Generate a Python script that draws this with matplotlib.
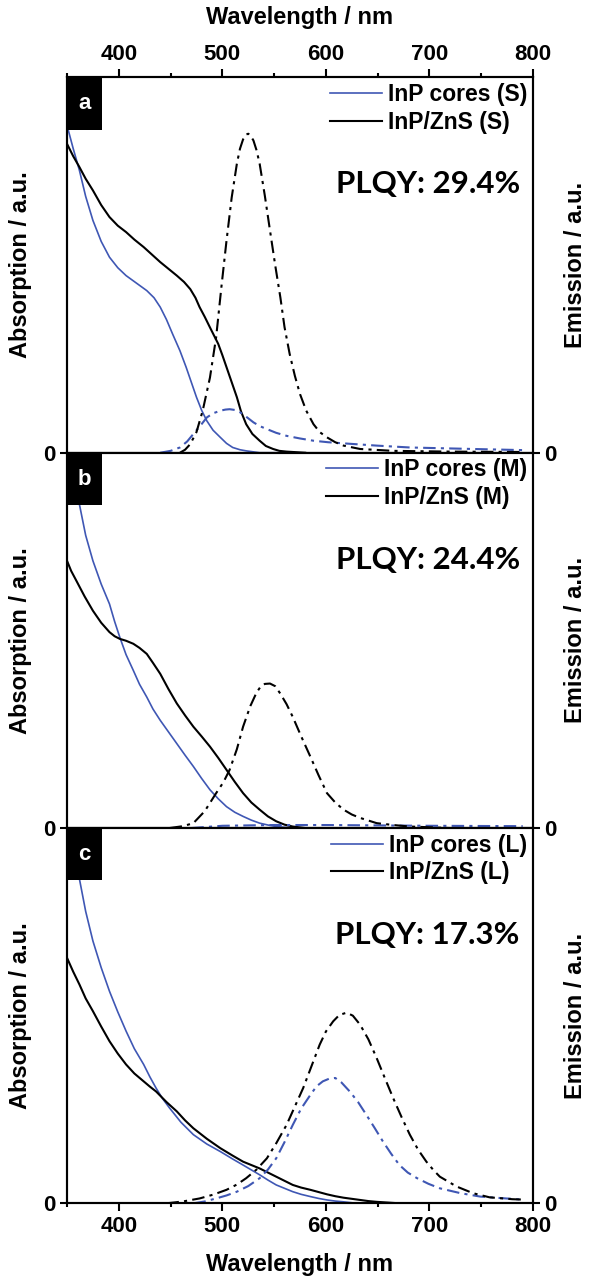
import matplotlib.pyplot as plt
from matplotlib.patches import Rectangle

# Panel a (S)
wl_core_abs_a = [350, 356, 362, 368, 375, 383, 391, 399, 407, 417, 427, 434, 440, 446, 452, 459, 465,
                 470, 475, 480, 485, 491, 498, 504, 510, 517, 523, 536, 560]
core_abs_a = [0.872, 0.81, 0.752, 0.683, 0.619, 0.563, 0.521, 0.493, 0.472, 0.452, 0.432, 0.413, 0.388,
              0.355, 0.316, 0.272, 0.228, 0.188, 0.148, 0.113, 0.085, 0.060, 0.041, 0.025, 0.014, 0.008,
              0.005, 0.0, 0.0]
wl_shell_abs_a = [350, 356, 362, 368, 375, 383, 391, 399, 407, 415, 424, 432, 440, 448, 456, 463, 469,
                  474, 478, 483, 488, 492, 496, 500, 504, 509, 514, 518, 523, 529, 536, 542, 549, 555,
                  562, 580]
shell_abs_a = [0.823, 0.79, 0.761, 0.73, 0.699, 0.66, 0.628, 0.605, 0.588, 0.568, 0.548, 0.528, 0.508,
               0.49, 0.472, 0.455, 0.436, 0.413, 0.388, 0.362, 0.334, 0.312, 0.290, 0.260, 0.228, 0.188,
               0.148, 0.110, 0.076, 0.050, 0.032, 0.018, 0.010, 0.005, 0.003, 0.0]
wl_core_em_a = [440, 450, 459, 466, 472, 479, 485, 491, 498, 503, 507, 512, 517, 523, 530, 536, 543,
                552, 562, 575, 588, 602, 617, 633, 649, 681, 742, 790]
core_em_a = [0.0, 0.005, 0.014, 0.030, 0.050, 0.073, 0.094, 0.105, 0.112, 0.115, 0.116, 0.114, 0.108,
             0.096, 0.081, 0.071, 0.063, 0.053, 0.045, 0.038, 0.032, 0.028, 0.025, 0.022, 0.019, 0.014,
             0.010, 0.007]
wl_shell_em_a = [459, 464, 469, 475, 481, 488, 494, 499, 504, 509, 514, 517, 520, 523, 525, 527, 530,
                 533, 536, 541, 546, 551, 556, 560, 565, 570, 575, 581, 588, 594, 601, 609, 617, 633,
                 665, 720, 790]
shell_em_a = [0.0, 0.008, 0.023, 0.055, 0.112, 0.200, 0.308, 0.440, 0.565, 0.680, 0.770, 0.810, 0.835,
              0.848, 0.850, 0.846, 0.832, 0.806, 0.770, 0.685, 0.592, 0.500, 0.414, 0.335, 0.263, 0.205,
              0.156, 0.112, 0.076, 0.055, 0.041, 0.028, 0.019, 0.010, 0.005, 0.003, 0.002]

# Panel b (M)
wl_core_abs_b = [350, 353, 357, 362, 368, 375, 383, 391, 396, 401, 407, 414, 420, 427, 433, 440, 448,
                 456, 464, 472, 480, 488, 496, 504, 512, 520, 528, 536, 544, 552, 568]
core_abs_b = [1.08, 1.0, 0.93, 0.862, 0.78, 0.712, 0.65, 0.597, 0.55, 0.508, 0.462, 0.420, 0.383,
              0.349, 0.317, 0.287, 0.256, 0.225, 0.194, 0.164, 0.132, 0.102, 0.078, 0.057, 0.042, 0.031,
              0.021, 0.013, 0.008, 0.004, 0.0]
wl_shell_abs_b = [350, 354, 359, 367, 375, 383, 391, 396, 401, 407, 414, 420, 427, 433, 440, 448, 456,
                  464, 472, 480, 488, 496, 504, 512, 520, 528, 536, 544, 552, 560, 568, 580]
shell_abs_b = [0.712, 0.685, 0.659, 0.617, 0.579, 0.547, 0.522, 0.511, 0.504, 0.499, 0.491, 0.480,
               0.464, 0.440, 0.411, 0.370, 0.332, 0.300, 0.270, 0.244, 0.217, 0.187, 0.155, 0.123,
               0.093, 0.068, 0.049, 0.031, 0.018, 0.009, 0.004, 0.0]
wl_core_em_b = [470, 500, 550, 600, 700, 790]
core_em_b = [0.0, 0.006, 0.008, 0.008, 0.006, 0.005]
wl_shell_em_b = [449, 462, 472, 483, 494, 501, 507, 514, 520, 527, 533, 537, 541, 546, 551, 556, 562,
                 568, 576, 585, 593, 601, 609, 617, 625, 633, 649, 665, 681, 720]
shell_em_b = [0.0, 0.005, 0.013, 0.045, 0.093, 0.122, 0.155, 0.210, 0.270, 0.325, 0.361, 0.377, 0.384,
              0.385, 0.378, 0.358, 0.330, 0.296, 0.245, 0.190, 0.140, 0.093, 0.068, 0.049, 0.036, 0.027,
              0.013, 0.008, 0.004, 0.0]

# Panel c (L)
wl_core_abs_c = [350, 355, 362, 368, 375, 383, 391, 399, 407, 415, 424, 430, 436, 442, 449, 460, 472,
                 485, 498, 510, 520, 528, 536, 544, 552, 560, 568, 576, 585, 593, 601, 609, 617, 630]
core_abs_c = [1.15, 1.0, 0.864, 0.778, 0.699, 0.628, 0.565, 0.510, 0.459, 0.412, 0.370, 0.337, 0.307,
              0.280, 0.254, 0.216, 0.183, 0.158, 0.138, 0.118, 0.102, 0.089, 0.076, 0.062, 0.049, 0.040,
              0.031, 0.024, 0.018, 0.013, 0.009, 0.006, 0.004, 0.0]
wl_shell_abs_c = [350, 356, 362, 368, 375, 383, 391, 399, 407, 415, 424, 430, 436, 446, 456, 464, 472,
                  485, 498, 510, 520, 528, 536, 544, 552, 560, 568, 576, 585, 593, 601, 609, 617, 625,
                  633, 641, 649, 660, 671]
shell_abs_c = [0.654, 0.617, 0.583, 0.546, 0.512, 0.471, 0.432, 0.399, 0.370, 0.346, 0.325, 0.311,
               0.298, 0.270, 0.245, 0.221, 0.200, 0.172, 0.147, 0.127, 0.111, 0.102, 0.093, 0.082,
               0.071, 0.060, 0.049, 0.042, 0.036, 0.030, 0.024, 0.019, 0.015, 0.012, 0.009, 0.006,
               0.004, 0.002, 0.0]
wl_core_em_c = [472, 483, 494, 504, 514, 525, 536, 544, 552, 560, 568, 576, 585, 591, 597, 603, 609,
                615, 623, 631, 639, 647, 655, 663, 671, 679, 688, 699, 710, 730, 749, 774, 790]
core_em_c = [0.0, 0.005, 0.013, 0.021, 0.031, 0.046, 0.067, 0.090, 0.120, 0.163, 0.209, 0.252, 0.289,
             0.312, 0.325, 0.332, 0.334, 0.322, 0.298, 0.270, 0.236, 0.201, 0.165, 0.132, 0.102, 0.082,
             0.067, 0.052, 0.040, 0.027, 0.018, 0.013, 0.010]
wl_shell_em_c = [446, 462, 478, 491, 504, 514, 523, 533, 543, 552, 562, 570, 578, 586, 594, 600, 607,
                 613, 620, 626, 633, 641, 649, 657, 665, 673, 681, 689, 697, 704, 710, 726, 742, 758,
                 780, 790]
shell_em_c = [0.0, 0.005, 0.013, 0.023, 0.036, 0.050, 0.067, 0.090, 0.120, 0.160, 0.209, 0.258, 0.307,
              0.365, 0.423, 0.458, 0.485, 0.502, 0.508, 0.500, 0.476, 0.437, 0.387, 0.333, 0.280, 0.230,
              0.183, 0.143, 0.111, 0.088, 0.071, 0.045, 0.027, 0.016, 0.011, 0.010]

panels = [
    ("a", "S", "29.4%", wl_core_abs_a, core_abs_a, wl_shell_abs_a, shell_abs_a,
     wl_core_em_a, core_em_a, wl_shell_em_a, shell_em_a),
    ("b", "M", "24.4%", wl_core_abs_b, core_abs_b, wl_shell_abs_b, shell_abs_b,
     wl_core_em_b, core_em_b, wl_shell_em_b, shell_em_b),
    ("c", "L", "17.3%", wl_core_abs_c, core_abs_c, wl_shell_abs_c, shell_abs_c,
     wl_core_em_c, core_em_c, wl_shell_em_c, shell_em_c),
]

blue = "#3f57b4"
dashdot = (0, (6, 2.5, 1.5, 2.5))
plt.rcParams["font.family"] = "Liberation Sans"
plt.rcParams["font.weight"] = "bold"
plt.rcParams["axes.labelweight"] = "bold"

fig = plt.figure(figsize=(5.89, 12.8), dpi=100)

left, width = 0.1138, 0.7912
h = 0.2932
bottoms = [0.0599 + 2 * h, 0.0599 + h, 0.0599]

for i, (letter, size, plqy, wca, ca, wsa, sa, wce, ce, wse, se) in enumerate(panels):
    ax = fig.add_axes([left, bottoms[i], width, h])
    ax2 = ax.twinx()

    ax.plot(wca, ca, color=blue, lw=1.2, label="InP cores (%s)" % size)
    ax.plot(wsa, sa, color="black", lw=1.5, label="InP/ZnS (%s)" % size)
    ax2.plot(wce, ce, color=blue, lw=1.5, linestyle=dashdot)
    ax2.plot(wse, se, color="black", lw=1.5, linestyle=dashdot)

    for a in (ax, ax2):
        a.set_xlim(350, 800)
        a.set_ylim(0, 1)
        a.set_yticks([0])
        for s in a.spines.values():
            s.set_linewidth(1.5)
    ax.tick_params(axis="y", direction="out", length=5, width=1.5, labelsize=16, pad=3)
    ax2.tick_params(axis="y", direction="out", length=5, width=1.5, labelsize=16, pad=3)

    ax.set_xticks([400, 500, 600, 700, 800])
    ax.set_xticks([350, 450, 550, 650, 750], minor=True)
    ax.tick_params(axis="x", which="major", direction="out", length=6, width=1.5, labelsize=16, pad=3)
    ax.tick_params(axis="x", which="minor", direction="out", length=3, width=1.5)
    if i == 0:
        ax.xaxis.tick_top()
        ax.xaxis.set_label_position("top")
        ax.set_xlabel("Wavelength / nm", fontsize=17, labelpad=14)
    elif i == 2:
        ax.set_xlabel("Wavelength / nm", fontsize=17, labelpad=12)
    else:
        ax.tick_params(axis="x", which="both", bottom=False, labelbottom=False)

    ax.set_ylabel("Absorption / a.u.", fontsize=17)
    ax.yaxis.set_label_coords(-0.0755, 0.5)
    ax2.set_ylabel("Emission / a.u.", fontsize=17, rotation=90)
    ax2.yaxis.set_label_coords(1.066, 0.5)

    ax.legend(loc="upper right", frameon=False, fontsize=16.5, handlelength=2.3,
              handletextpad=0.25, labelspacing=0.2, borderaxespad=0.15, borderpad=0.1)

    ax2.add_patch(Rectangle((0, 0.861), 0.076, 0.139, transform=ax2.transAxes,
                            facecolor="black", edgecolor="none", clip_on=False, zorder=5))
    ax2.text(0.038, 0.93, letter, transform=ax2.transAxes, color="white",
             fontsize=16, ha="center", va="center", zorder=6)

    ax2.text(0.9717, 0.715, "PLQY: " + plqy, transform=ax2.transAxes, ha="right",
             va="center", fontsize=22.5, family="Lato", weight="bold")

fig.savefig("out.png", dpi=100)
